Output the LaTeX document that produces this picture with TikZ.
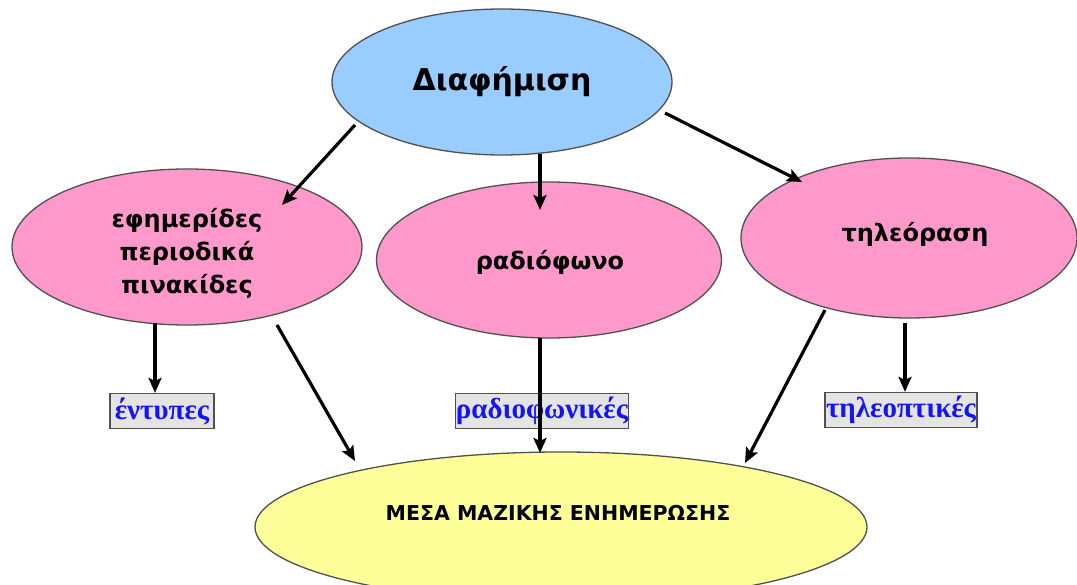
\documentclass[tikz,border=0pt]{standalone}
\usepackage{fontspec}
\usetikzlibrary{shapes.geometric,arrows.meta}
\newfontfamily\dvs{DejaVu Sans}
\newfontfamily\lser{Liberation Serif}
\definecolor{eblue}{HTML}{99CCFF}
\definecolor{epink}{HTML}{FF99CC}
\definecolor{eyellow}{HTML}{FFFF99}
\definecolor{eborder}{HTML}{505050}
\definecolor{lblfill}{HTML}{E4E4E4}
\definecolor{lbltext}{HTML}{1414F5}
\tikzset{
  oval/.style={ellipse, draw=eborder, line width=1.3pt, inner sep=0pt},
  lbl/.style={draw=eborder, fill=lblfill, line width=1.2pt, inner sep=0pt, text=lbltext,
    font=\lser\bfseries\fontsize{29}{30}\selectfont, minimum height=35pt},
  arr/.style={line width=3.2pt, -{Stealth[length=15pt,width=13pt,inset=3pt]}},
  ptext/.style={font=\dvs\bfseries\fontsize{24}{33}\selectfont, align=center}
}
\begin{document}
\begin{tikzpicture}[x=1pt,y=-1pt]
\useasboundingbox (0,0) rectangle (1077,585);
\fill[white] (0,0) rectangle (1077,585);
\node[oval, fill=eblue, minimum width=340pt, minimum height=146pt,
  font=\dvs\bfseries\fontsize{30}{34}\selectfont] (top) at (502,82) {Διαφήμιση};
\node[oval, fill=epink, minimum width=350pt, minimum height=156pt] (press) at (187,247) {};
\node[ptext] (presst) at (187,253) {εφημερίδες\\περιοδικά\\πινακίδες};
\node[oval, fill=epink, minimum width=345pt, minimum height=156pt] (radio) at (549,260) {};
\node[ptext] (radiot) at (550,262) {ραδιόφωνο};
\node[oval, fill=epink, minimum width=336pt, minimum height=160pt] (tv) at (909,238) {};
\node[ptext] (tvt) at (915,234) {τηλεόραση};
\node[oval, fill=eyellow, minimum width=612pt, minimum height=150pt] (mme) at (561,527) {};
\node[font=\dvs\bfseries\fontsize{20.5}{24}\selectfont] (mmet) at (558,513) {ΜΕΣΑ ΜΑΖΙΚΗΣ ΕΝΗΜΕΡΩΣΗΣ};
\node[lbl, minimum width=104pt] (ent) at (162,411) {έντυπες};
\node[lbl, minimum width=173pt] (rad) at (542,411) {ραδιοφωνικές};
\node[lbl, minimum width=152pt] (tel) at (901,410) {τηλεοπτικές};
\draw[arr] ([shift={(-147,43)}]top.center) -- ([shift={(95,-42)}]press.center);
\draw[arr] ([shift={(38,72)}]top.center) -- ([shift={(-9,-50)}]radio.center);
\draw[arr] ([shift={(163,31)}]top.center) -- ([shift={(-107,-56)}]tv.center);
\draw[arr] ([shift={(-32,76)}]press.center) -- ([shift={(-7,0)}]ent.north);
\draw[arr] ([shift={(-4,85)}]tv.center) -- ([shift={(4,0)}]tel.north);
\draw[arr] ([shift={(90,78)}]press.center) -- ([shift={(-206,-66)}]mme.center);
\draw[arr] ([shift={(-9,78)}]radio.center) -- ([shift={(-21,-74)}]mme.center);
\draw[arr] ([shift={(-84,72)}]tv.center) -- ([shift={(184,-64)}]mme.center);
\end{tikzpicture}
\end{document}
